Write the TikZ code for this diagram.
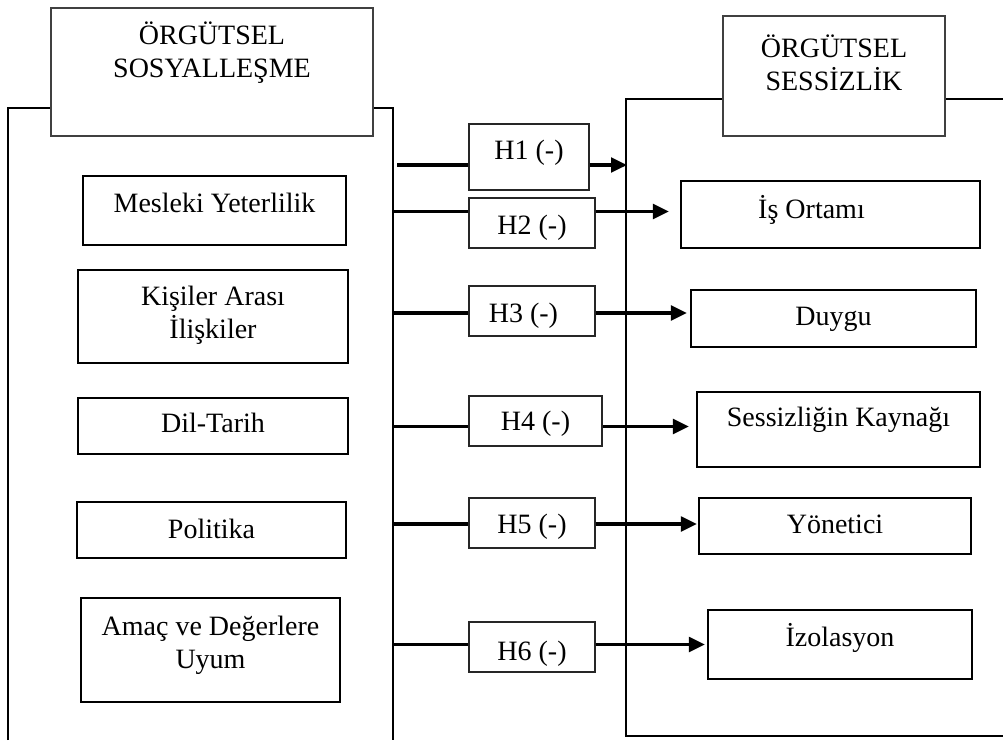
\documentclass[tikz,border=0pt]{standalone}
\usepackage{fontspec}
\setmainfont{Liberation Serif}
\usetikzlibrary{arrows.meta,fit}
\begin{document}
\begin{tikzpicture}[x=0.75pt,y=-0.75pt,
  every node/.style={font=\fontsize{21}{24.75}\selectfont, align=center, inner sep=0pt},
  sline/.style={text height=14.7pt, text depth=4.6pt},
  titlebox/.style={draw=black!75, line width=0.8pt},
  hbox/.style={draw=black!85, line width=0.9pt},
  itembox/.style={draw, line width=1.6pt},
  frameline/.style={line width=1.6pt},
  conn/.style={line width=2.3pt},
  arr/.style={line width=2.3pt, -{Triangle[length=12pt,width=11pt]}},
]
\useasboundingbox (0,0) rectangle (1003,740);

% frames
\draw[frameline] (8,740) -- (8,108) -- (51,108);
\draw[frameline] (373,108) -- (393,108) -- (393,740);
\draw[frameline] (723,99) -- (626,99) -- (626,736) -- (1003,736);
\draw[frameline] (945,99) -- (1003,99);

% title boxes
\node[titlebox, fit={(51,8)(373,136)}, label={[yshift=14.25pt]center:{ÖRGÜTSEL\\SOSYALLEŞME}}] (LT) {};
\node[titlebox, fit={(723,16)(945,136)}, label={[yshift=10pt]center:{ÖRGÜTSEL\\SESSİZLİK}}] (RT) {};

% left items
\node[itembox, fit={(83,176)(346,245)}, label={[sline, yshift=3.8pt]center:Mesleki Yeterlilik}] (L1) {};
\node[itembox, fit={(78,270)(348,363)}, label={[yshift=1.1pt]center:{Kişiler Arası\\İlişkiler}}] (L2) {};
\node[itembox, fit={(78,398)(348,454)}, label={[sline]center:Dil-Tarih}] (L3) {};
\node[itembox, fit={(77,502)(346,558)}, label={[sline, yshift=-1pt]center:Politika}] (L4) {};
\node[itembox, fit={(81,598)(340,702)}, label={[yshift=3.5pt]center:{Amaç ve Değerlere\\Uyum}}] (L5) {};

% hypothesis boxes
\node[hbox, fit={(469,124)(589,190)}, label={[sline, yshift=3.5pt]center:H1 (-)}] (H1) {};
\node[hbox, fit={(469,198)(595,248)}, label={[sline, yshift=-3.3pt]center:H2 (-)}] (H2) {};
\node[hbox, fit={(469,286)(595,336)}, label={[sline, yshift=-3.3pt, xshift=-6.4pt]center:H3 (-)}] (H3) {};
\node[hbox, fit={(469,396)(602,446)}, label={[sline, yshift=-1.8pt]center:H4 (-)}] (H4) {};
\node[hbox, fit={(469,498)(595,548)}, label={[sline, yshift=-2.9pt]center:H5 (-)}] (H5) {};
\node[hbox, fit={(469,622)(595,672)}, label={[sline, yshift=-4.8pt]center:H6 (-)}] (H6) {};

% right items
\node[itembox, fit={(681,181)(980,248)}, label={[sline, yshift=2.3pt, xshift=-14.25pt]center:İş Ortamı}] (R1) {};
\node[itembox, fit={(691,290)(976,347)}, label={[sline]center:Duygu}] (R2) {};
\node[itembox, fit={(697,392)(980,467)}, label={[sline, yshift=7.2pt]center:Sessizliğin Kaynağı}] (R3) {};
\node[itembox, fit={(699,498)(971,554)}, label={[sline, yshift=-0.7pt]center:Yönetici}] (R4) {};
\node[itembox, fit={(708,610)(972,679)}, label={[sline, yshift=3.5pt]center:İzolasyon}] (R5) {};

% connector coordinates
\coordinate (s1) at (397,165);
\coordinate (t1) at (627,165);
\coordinate (s2) at (393,211.5);
\coordinate (s3) at (393,313);
\coordinate (s4) at (393,426.5);
\coordinate (s5) at (393,524);
\coordinate (s6) at (393,644.5);

% connectors
\draw[conn] (s1) -- (s1 -| H1.west);
\draw[arr] (s1 -| H1.east) -- (t1);
\draw[conn] (s2) -- (s2 -| H2.west);
\draw[arr, shorten >=8.25pt] (s2 -| H2.east) -- (s2 -| R1.west);
\draw[conn] (s3) -- (s3 -| H3.west);
\draw[arr, shorten >=2.25pt] (s3 -| H3.east) -- (s3 -| R2.west);
\draw[conn] (s4) -- (s4 -| H4.west);
\draw[arr, shorten >=5.25pt] (s4 -| H4.east) -- (s4 -| R3.west);
\draw[conn] (s5) -- (s5 -| H5.west);
\draw[arr, shorten >=0.75pt] (s5 -| H5.east) -- (s5 -| R4.west);
\draw[conn] (s6) -- (s6 -| H6.west);
\draw[arr, shorten >=1.5pt] (s6 -| H6.east) -- (s6 -| R5.west);
\end{tikzpicture}
\end{document}
